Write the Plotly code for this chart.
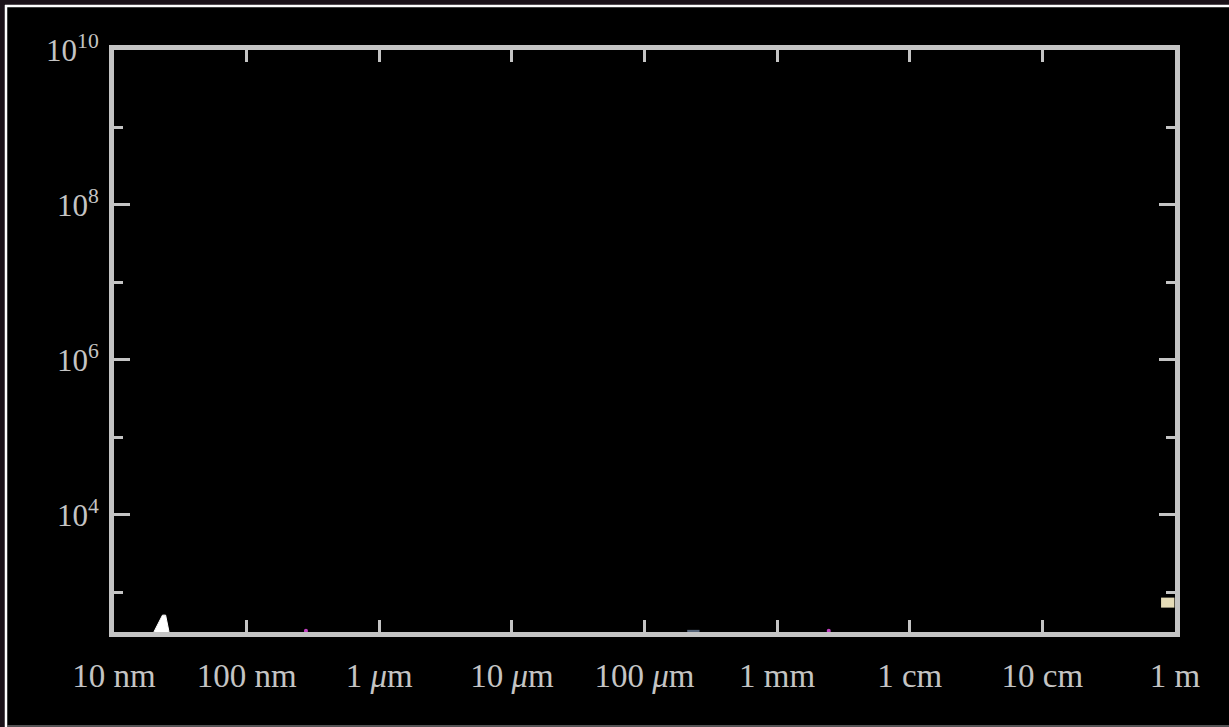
import plotly.graph_objects as go

# Wavelength (m) and intensity of the emission features
spike_wavelength = [2.0e-8, 2.32e-8, 2.45e-8, 2.6e-8]
spike_intensity = [3.1e2, 5.1e2, 5.1e2, 3.1e2]

radio_wavelength = [0.785, 0.99]
radio_intensity = [7.4e2, 7.4e2]

trace_wavelength = [2.8e-7, 2.45e-3]
trace_intensity = [3.2e2, 3.2e2]

mm_wavelength = [2.1e-4, 2.6e-4]
mm_intensity = [3.15e2, 3.15e2]

# Axis ticks
x_tickvals = [1e-8, 1e-7, 1e-6, 1e-5, 1e-4, 1e-3, 1e-2, 1e-1, 1e0]
x_ticktext = ["10 nm", "100 nm", "1 <i>μ</i>m", "10 <i>μ</i>m", "100 <i>μ</i>m",
              "1 mm", "1 cm", "10 cm", "1 m"]
y_tickvals = [1e4, 1e6, 1e8, 1e10]
y_ticktext = ["10<sup>4</sup>", "10<sup>6</sup>", "10<sup>8</sup>", "10<sup>10</sup>"]
y_minorvals = [1e3, 1e5, 1e7, 1e9]

W, H = 1229, 727
L, R, T, B = 114, 54, 50, 95
PW, PH = W - L - R, H - T - B


def px(x):
    return (x - L) / PW


def py(y):
    return (H - B - y) / PH


fig = go.Figure()

fig.add_trace(go.Scatter(x=spike_wavelength, y=spike_intensity, mode="lines",
                         fill="toself", fillcolor="white",
                         line=dict(color="white", width=1), hoverinfo="skip"))
fig.add_trace(go.Scatter(x=radio_wavelength, y=radio_intensity, mode="lines",
                         line=dict(color="#e6dcb8", width=10), hoverinfo="skip"))
fig.add_trace(go.Scatter(x=trace_wavelength, y=trace_intensity, mode="markers",
                         marker=dict(color="#c040c0", size=4), hoverinfo="skip"))
fig.add_trace(go.Scatter(x=mm_wavelength, y=mm_intensity, mode="lines",
                         line=dict(color="#56657a", width=3), hoverinfo="skip"))

frame_color = "#c4c4c4"
x_font = dict(family="Liberation Serif", size=33, color="#c4c4c4")
y_font = dict(family="Liberation Serif", size=31, color="#c4c4c4")

fig.update_xaxes(type="log", range=[-8, 0], showgrid=False, zeroline=False,
                 showline=True, linecolor=frame_color, linewidth=5, mirror="ticks",
                 ticks="inside", ticklen=12, tickwidth=3, tickcolor=frame_color,
                 tickvals=x_tickvals, ticktext=x_ticktext, tickfont=x_font,
                 ticklabelstandoff=10)
fig.update_yaxes(type="log", range=[2.49, 10], showgrid=False, zeroline=False,
                 showline=True, linecolor=frame_color, linewidth=5, mirror="ticks",
                 ticks="inside", ticklen=16, tickwidth=3, tickcolor=frame_color,
                 tickvals=y_tickvals, ticktext=y_ticktext, tickfont=y_font,
                 ticklabelstandoff=4,
                 minor=dict(tickvals=y_minorvals, ticks="inside", ticklen=9,
                            tickwidth=3, tickcolor=frame_color, showgrid=False))

fig.update_layout(
    width=W, height=H,
    margin=dict(l=L, r=R, t=T, b=B),
    paper_bgcolor="#1b1219",
    plot_bgcolor="black",
    showlegend=False,
    shapes=[
        dict(type="rect", xref="paper", yref="paper", layer="below",
             x0=px(7), x1=px(W + 2), y0=py(725), y1=py(7),
             fillcolor="black", line=dict(width=0)),
        dict(type="line", xref="paper", yref="paper", layer="below",
             x0=px(5), x1=px(W + 2), y0=py(6), y1=py(6),
             line=dict(color="white", width=2.5)),
        dict(type="line", xref="paper", yref="paper", layer="below",
             x0=px(6), x1=px(6), y0=py(5), y1=py(H + 2),
             line=dict(color="white", width=2.5)),
        dict(type="line", xref="paper", yref="paper", layer="below",
             x0=px(7), x1=px(W + 2), y0=py(726), y1=py(726),
             line=dict(color="#6a6a6a", width=1.5)),
    ],
)

fig.write_html("out.html", config={"displayModeBar": False})
